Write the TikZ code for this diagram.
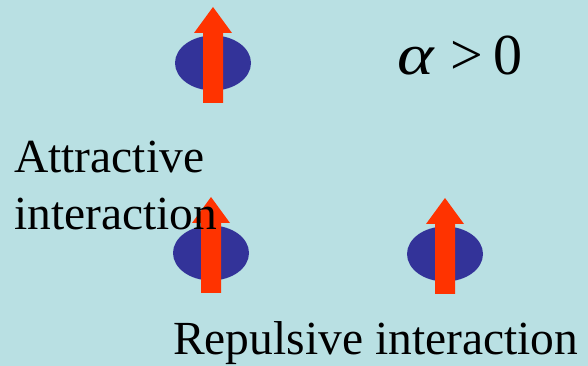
\documentclass[tikz,border=0pt]{standalone}
\usepackage{fontspec}
\setmainfont{Liberation Serif}
\usetikzlibrary{shapes.geometric}
\definecolor{bgcyan}{HTML}{B9E0E3}
\definecolor{spinblue}{HTML}{333399}
\definecolor{spinred}{HTML}{FF3300}

\begin{document}
\begin{tikzpicture}[x=1pt,y=1pt,
 spin/.style={ellipse,fill=spinblue,inner sep=0pt,minimum width=76pt,minimum height=55pt},
 uparr/.style={fill=spinred},
 lab/.style={inner sep=0pt,font=\fontsize{47.5}{57}\selectfont}]
\fill[bgcyan] (0,0) rectangle (588,366);
\useasboundingbox (0,0) rectangle (588,366);
% spins: ellipse with an up arrow through it
\foreach \n/\x/\y in {top/213/303,pairl/211/113,pairr/445/112}{
 \node[spin] (\n) at (\x,\y) {};
 \fill[uparr,shift={(\n)}] (-10,-40)--(-10,30)--(-19,30)--(0,56)--(19,30)--(10,30)--(10,-40)--cycle;
}
\node[lab,anchor=base west,font=\fontsize{58}{60}\selectfont] (alpha) at (397,291) {\scalebox{1.2}[1]{\textit{α}}\hspace{16pt}>\,0};
\node[lab,anchor=base west,align=left] (attr) at (14,136) {Attractive\\interaction};
\node[lab,anchor=base west] (rep) at (173,11) {Repulsive interaction};
\end{tikzpicture}
\end{document}
